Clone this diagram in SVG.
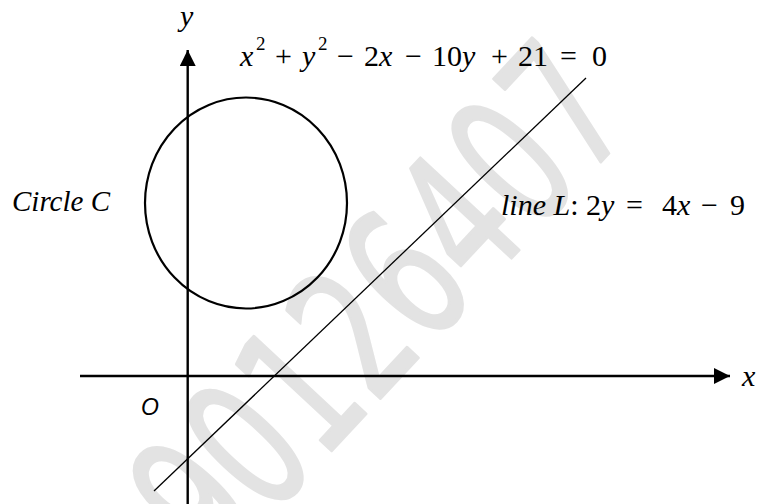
<svg xmlns="http://www.w3.org/2000/svg" width="757" height="504" viewBox="0 0 757 504">
<style>
.m{font-family:"Liberation Serif","Times New Roman",serif;font-size:30px;fill:#000}
.i{font-style:italic}
.s{font-size:19px}
.ax{stroke:#000;stroke-width:2.4;fill:none}
.wm{font-family:"DejaVu Sans","Liberation Sans",sans-serif;fill:#e3e3e3;stroke:#e3e3e3;stroke-width:3;stroke-linejoin:round}
</style>
<defs>
<marker id="ah" viewBox="0 0 16 16" refX="16" refY="8" markerWidth="16" markerHeight="16" markerUnits="userSpaceOnUse" orient="auto">
<path d="M0,0 L16,8 L0,16 Z" fill="#000"/>
</marker>
</defs>
<rect width="757" height="504" fill="#fff"/>
<text class="wm" x="380" y="305" font-size="185" text-anchor="middle" dominant-baseline="central" textLength="620" lengthAdjust="spacingAndGlyphs" transform="rotate(-47 380 305)">90126407</text>
<g id="connectors">
<line class="ax" x1="80" y1="376" x2="730" y2="376" marker-end="url(#ah)"/>
<line class="ax" x1="187.7" y1="504" x2="187.7" y2="50" marker-end="url(#ah)"/>
<line x1="154" y1="491" x2="586" y2="78" stroke="#000" stroke-width="1.3"/>
</g>
<g id="circleC">
<ellipse cx="246" cy="203" rx="101" ry="105.5" fill="none" stroke="#000" stroke-width="2.2"/>
</g>
<g id="labels">
<text class="m i" x="180" y="26">y</text>
<text class="m i" x="742" y="386">x</text>
<text x="141" y="415" font-family="Liberation Sans,Arial,sans-serif" font-style="italic" font-size="23">O</text>
<text class="m i" x="12" y="210.5" font-size="31" textLength="98" lengthAdjust="spacingAndGlyphs">Circle C</text>
<text class="m" y="66"><tspan class="i" x="240">x</tspan><tspan class="s" x="256" y="50">2</tspan><tspan x="275" y="66">+</tspan><tspan class="i" x="302">y</tspan><tspan class="s" x="318" y="50">2</tspan><tspan x="337" y="66">−</tspan><tspan x="364">2</tspan><tspan class="i">x</tspan><tspan x="405">−</tspan><tspan x="432">10</tspan><tspan class="i">y</tspan><tspan x="491">+</tspan><tspan x="518">21</tspan><tspan x="560">=</tspan><tspan x="592">0</tspan></text>
<text class="m" y="215"><tspan class="i" x="501">line L</tspan><tspan>:</tspan><tspan x="586">2</tspan><tspan class="i">y</tspan><tspan x="626">=</tspan><tspan x="662">4</tspan><tspan class="i">x</tspan><tspan x="701">−</tspan><tspan x="730">9</tspan></text>
</g>
</svg>
